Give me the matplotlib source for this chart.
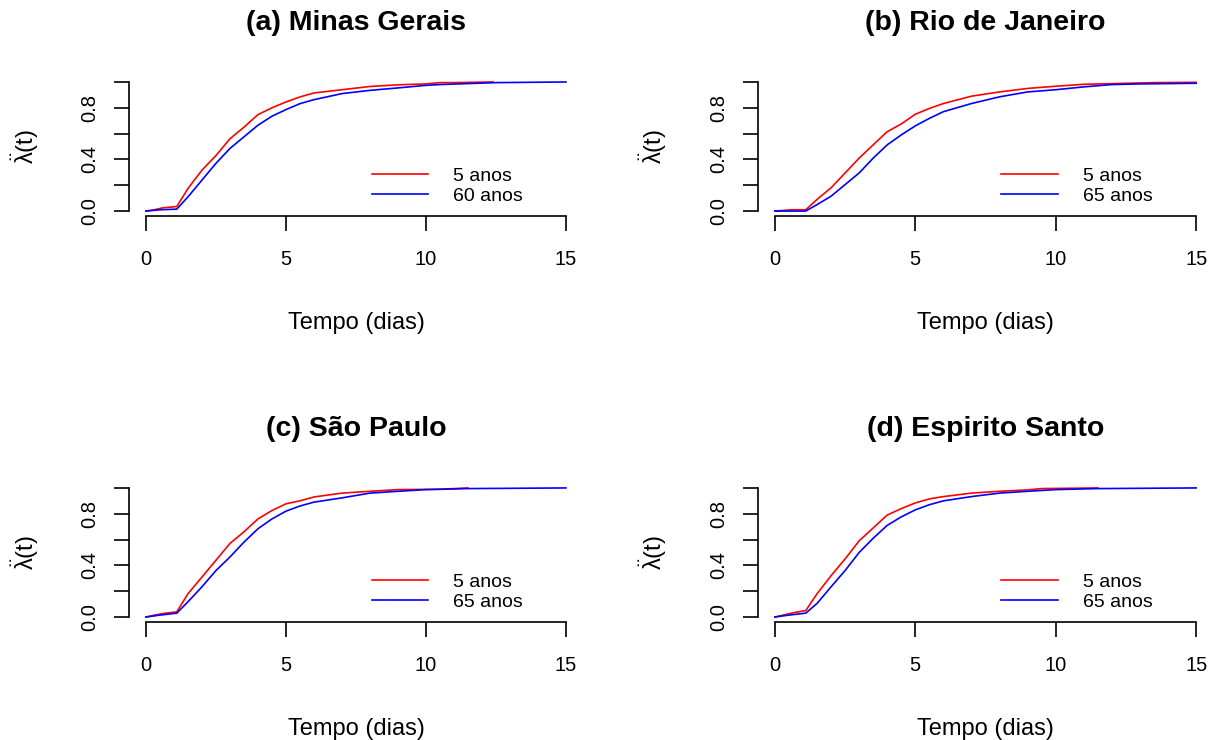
import matplotlib
matplotlib.use("Agg")
import matplotlib.pyplot as plt

plt.rcParams['font.family'] = ['Liberation Sans', 'DejaVu Sans']
plt.rcParams['mathtext.fontset'] = 'custom'
plt.rcParams['mathtext.rm'] = 'Liberation Sans'
plt.rcParams['mathtext.it'] = 'Liberation Sans'

# titulos e legendas
titles = ['(a) Minas Gerais', '(b) Rio de Janeiro', '(c) São Paulo', '(d) Espirito Santo']
young_labels = ['5 anos', '5 anos', '5 anos', '5 anos']
old_labels = ['60 anos', '65 anos', '65 anos', '65 anos']

x_ticks = [0, 5, 10, 15]
y_ticks = [0.0, 0.2, 0.4, 0.6, 0.8, 1.0]
y_tick_labels = ['0.0', '', '0.4', '', '0.8', '']

# (a) Minas Gerais
t_mg_5 = [0, 0.3, 0.6, 1.1, 1.5, 2, 2.5, 3, 3.5, 4, 4.5, 5, 5.5, 6, 7, 8, 9, 10, 10.5, 11, 12.4]
y_mg_5 = [0, 0.01, 0.025, 0.035, 0.175, 0.317, 0.43, 0.56, 0.65, 0.747, 0.80, 0.845, 0.884, 0.915,
          0.94, 0.965, 0.978, 0.985, 0.995, 0.995, 1.0]
t_mg_60 = [0, 0.5, 1.1, 1.5, 2, 2.5, 3, 3.5, 4, 4.5, 5, 5.5, 6, 7, 8, 9, 10, 10.5, 12.5, 15]
y_mg_60 = [0, 0.01, 0.015, 0.11, 0.24, 0.37, 0.485, 0.575, 0.665, 0.735, 0.786, 0.832, 0.863,
           0.91, 0.935, 0.954, 0.974, 0.98, 0.995, 1.0]

# (b) Rio de Janeiro
t_rj_5 = [0, 0.6, 1.1, 1.5, 2, 2.5, 3, 3.5, 4, 4.5, 5, 5.5, 6, 7, 8, 9, 10, 11, 12, 13.5, 15]
y_rj_5 = [0, 0.01, 0.01, 0.09, 0.18, 0.295, 0.41, 0.513, 0.615, 0.675, 0.75, 0.795, 0.833, 0.89,
          0.923, 0.95, 0.967, 0.982, 0.987, 0.995, 0.997]
t_rj_65 = [0, 1.1, 1.5, 2, 2.5, 3, 3.5, 4, 4.5, 5, 5.5, 6, 7, 8, 9, 10, 11, 12, 13, 15]
y_rj_65 = [0, 0.0, 0.05, 0.115, 0.205, 0.295, 0.41, 0.513, 0.59, 0.66, 0.718, 0.77, 0.833, 0.885,
           0.923, 0.94, 0.962, 0.98, 0.985, 0.99]

# (c) Sao Paulo
t_sp_5 = [0, 0.3, 0.7, 1.1, 1.5, 2, 2.5, 3, 3.5, 4, 4.5, 5, 5.5, 6, 7, 8, 9, 10.5, 11.5]
y_sp_5 = [0, 0.015, 0.03, 0.04, 0.18, 0.31, 0.44, 0.57, 0.66, 0.76, 0.825, 0.877, 0.9, 0.93,
          0.96, 0.974, 0.987, 0.99, 1.0]
t_sp_65 = [0, 0.5, 1.1, 1.5, 2, 2.5, 3, 3.5, 4, 4.5, 5, 5.5, 6, 7, 8, 9, 10, 11.5, 15]
y_sp_65 = [0, 0.015, 0.03, 0.118, 0.234, 0.36, 0.465, 0.58, 0.684, 0.76, 0.82, 0.86, 0.89,
           0.923, 0.96, 0.974, 0.987, 0.995, 1.0]

# (d) Espirito Santo
t_es_5 = [0, 0.3, 0.7, 1.1, 1.5, 2, 2.5, 3, 3.5, 4, 4.5, 5, 5.5, 6, 7, 8, 9, 9.5, 11.5]
y_es_5 = [0, 0.015, 0.035, 0.05, 0.18, 0.32, 0.45, 0.59, 0.69, 0.79, 0.84, 0.884, 0.915, 0.933,
          0.96, 0.974, 0.985, 0.995, 1.0]
t_es_65 = [0, 0.5, 1.1, 1.5, 2, 2.5, 3, 3.5, 4, 4.5, 5, 5.5, 6, 7, 8, 9, 10, 11.5, 15]
y_es_65 = [0, 0.015, 0.03, 0.105, 0.234, 0.36, 0.5, 0.61, 0.71, 0.776, 0.83, 0.87, 0.9,
           0.933, 0.96, 0.974, 0.987, 0.995, 1.0]

series = [
    (t_mg_5, y_mg_5, t_mg_60, y_mg_60),
    (t_rj_5, y_rj_5, t_rj_65, y_rj_65),
    (t_sp_5, y_sp_5, t_sp_65, y_sp_65),
    (t_es_5, y_es_5, t_es_65, y_es_65),
]

fig = plt.figure(figsize=(12.14, 7.4), dpi=100)

# posicoes dos paineis (estilo R, par(mfrow=c(2,2)))
lefts = [0.1064, 0.6244, 0.1064, 0.6244]
bottoms = [0.7078, 0.7078, 0.1592, 0.1592]
widths = [0.3736, 0.3748, 0.3736, 0.3748]
height = 0.1884

for i in range(4):
    ax = fig.add_axes([lefts[i], bottoms[i], widths[i], height])
    t5, y5, to, yo = series[i]
    ax.plot(t5, y5, color='#FF0000', lw=1.2, label=young_labels[i])
    ax.plot(to, yo, color='#0000FF', lw=1.2, label=old_labels[i])

    ax.set_xlim(-0.6, 15.6)
    ax.set_ylim(-0.04, 1.04)
    ax.spines['top'].set_visible(False)
    ax.spines['right'].set_visible(False)
    ax.spines['left'].set_bounds(0, 1)
    ax.spines['bottom'].set_bounds(0, 15)
    ax.spines['left'].set_linewidth(1.2)
    ax.spines['bottom'].set_linewidth(1.2)

    ax.set_xticks(x_ticks)
    ax.set_xticklabels([str(v) for v in x_ticks])
    ax.set_yticks(y_ticks)
    ax.set_yticklabels(y_tick_labels)
    ax.tick_params(axis='both', direction='out', length=10.5, width=1.2, labelsize=14.5)
    ax.tick_params(axis='x', pad=14)
    ax.tick_params(axis='y', pad=11, labelrotation=90)
    for lab in ax.get_yticklabels():
        lab.set_verticalalignment('center')

    ax.set_title(titles[i], fontsize=20.5, fontweight='bold', pad=34)
    ax.set_xlabel('Tempo (dias)', fontsize=17)
    ax.xaxis.set_label_coords(0.5, -0.69)
    ax.set_ylabel(r'$\ddot{\mathrm{\lambda}}\mathrm{(t)}$', fontsize=17)
    ax.yaxis.set_label_coords(-0.195, 0.5)

    ax.legend(loc='upper left', bbox_to_anchor=(0.535, 0.35), frameon=False,
              fontsize=14, handlelength=2.9, handletextpad=1.3, labelspacing=0.12,
              borderpad=0, borderaxespad=0)

fig.savefig('out.png', dpi=100)
